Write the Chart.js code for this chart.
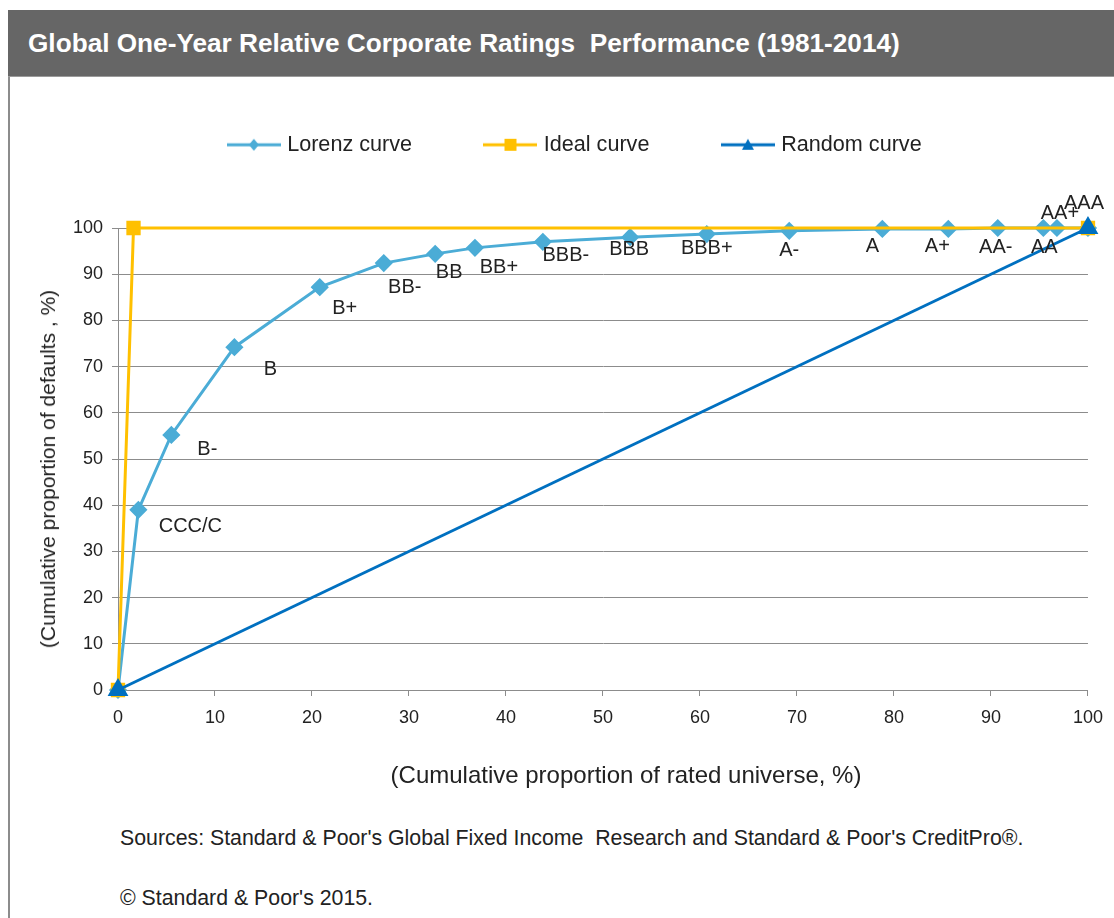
<!DOCTYPE html>
<html>
<head>
<meta charset="utf-8">
<script src="https://cdn.jsdelivr.net/npm/chart.js@4.4.1/dist/chart.umd.min.js"></script>
<style>
  body { margin: 0; background: #fff; font-family: "Liberation Sans", Arial, sans-serif; color: #222; }
  #titlebar {
    position: absolute; left: 8px; top: 10px; width: 1106px; height: 67px;
    background: #666666; color: #fff; font-weight: bold; font-size: 26.2px;
    line-height: 67px; padding-left: 20px; box-sizing: border-box; white-space: pre;
    border-bottom: 1px solid #9a9a9a;
  }
  #frame { position: absolute; left: 8px; top: 77px; width: 2px; height: 841px; background: #8c8c8c; }
  #wrap { position: absolute; left: 9px; top: 77px; width: 1105px; height: 723px; }
  .note { position: absolute; left: 120px; font-size: 21.3px; white-space: pre; }
  #xtitle { position: absolute; left: 626px; top: 775px; font-size: 24px; white-space: pre;
    transform: translate(-50%, -50%); }
  #ytitle { position: absolute; left: 48px; top: 469px; font-size: 21px; white-space: pre;
    transform: translate(-50%, -50%) rotate(-90deg); }
</style>
</head>
<body>
<div id="titlebar">Global One-Year Relative Corporate Ratings  Performance (1981-2014)</div>
<div id="frame"></div>
<div id="wrap"><canvas id="myChart"></canvas></div>
<div id="ytitle">(Cumulative proportion of defaults , %)</div>
<div id="xtitle">(Cumulative proportion of rated universe, %)</div>
<div class="note" style="top:826px">Sources: Standard &amp; Poor's Global Fixed Income  Research and Standard &amp; Poor's CreditPro®.</div>
<div class="note" style="top:886px">© Standard &amp; Poor's 2015.</div>
<script>
// rating categories, from worst to best (first point is the origin)
const ratings = ['', 'CCC/C', 'B-', 'B', 'B+', 'BB-', 'BB', 'BB+', 'BBB-', 'BBB', 'BBB+', 'A-', 'A', 'A+', 'AA-', 'AA', 'AA+', 'AAA'];
const lorenzX = [0, 2.1, 5.5, 12.0, 20.8, 27.4, 32.7, 36.8, 43.8, 52.8, 60.7, 69.2, 78.8, 85.6, 90.7, 95.4, 96.8, 100];
const lorenzY = [0, 39.0, 55.2, 74.2, 87.2, 92.4, 94.4, 95.7, 97.0, 98.0, 98.7, 99.4, 99.8, 99.8, 100, 100, 100, 100];
const idealX = [0, 1.6, 100];
const idealY = [0, 100, 100];
const randomX = [0, 100];
const randomY = [0, 100];
const xTicks = [0, 10, 20, 30, 40, 50, 60, 70, 80, 90, 100];
const yTicks = [0, 10, 20, 30, 40, 50, 60, 70, 80, 90, 100];

// where each rating label sits relative to its marker (px)
const labelOffsets = [null, [52, 17], [36, 15], [36, 22], [25, 21], [21, 24], [14, 19], [24, 20], [23, 14],
    [-1, 12], [0, 14], [0, 20], [-10, 18], [-11, 18], [-2, 19], [1, 19], [3, -15], [-4, -25]];

const LORENZ = '#4bacd6';
const IDEAL = '#ffc000';
const RANDOM = '#0070c0';
const GRID = '#8c8c8c';
const FONT = '"Liberation Sans", Arial, sans-serif';

function toPoints(xs, ys) {
    return xs.map((x, i) => ({x: x, y: ys[i]}));
}

// small line + marker picture for the legend
function legendIcon(color, marker) {
    const c = document.createElement('canvas');
    c.width = 54; c.height = 16;
    const g = c.getContext('2d');
    g.strokeStyle = color; g.lineWidth = 3;
    g.beginPath(); g.moveTo(0, 8); g.lineTo(54, 8); g.stroke();
    g.fillStyle = color;
    g.beginPath();
    if (marker === 'diamond') {
        g.moveTo(27, 2); g.lineTo(32, 8); g.lineTo(27, 14); g.lineTo(22, 8);
    } else if (marker === 'square') {
        g.rect(21, 2, 12, 12);
    } else {
        g.moveTo(27, 2); g.lineTo(33, 13); g.lineTo(21, 13);
    }
    g.closePath(); g.fill();
    return c;
}
const icons = [legendIcon(LORENZ, 'diamond'), legendIcon(IDEAL, 'square'), legendIcon(RANDOM, 'triangle')];

const ratingLabels = {
    id: 'ratingLabels',
    afterDatasetsDraw(chart) {
        const meta = chart.getDatasetMeta(0);
        const ctx = chart.ctx;
        ctx.save();
        ctx.font = '20px ' + FONT;
        ctx.fillStyle = '#222';
        ctx.textAlign = 'center';
        ctx.textBaseline = 'middle';
        meta.data.forEach((pt, i) => {
            if (!ratings[i]) return;
            const off = labelOffsets[i];
            ctx.fillText(ratings[i], pt.x + off[0], pt.y + off[1]);
        });
        ctx.restore();
    }
};

// fixed legend band height and row position
const legendPlace = {
    id: 'legendPlace',
    beforeUpdate(chart) {
        const lg = chart.legend;
        if (lg && !lg._patched) {
            const fit = lg.fit;
            lg.fit = function () { fit.call(this); this.height = 151; };
            lg._patched = true;
        }
    },
    afterLayout(chart) {
        const lg = chart.legend;
        lg.top = 57 - lg.options.labels.padding;
        lg.left += 28;
        lg.right += 28;
    }
};

const ctx = document.getElementById('myChart').getContext('2d');
new Chart(ctx, {
    type: 'scatter',
    data: {
        datasets: [{
            label: 'Lorenz curve',
            data: toPoints(lorenzX, lorenzY),
            showLine: true,
            clip: false,
            borderColor: LORENZ,
            backgroundColor: LORENZ,
            borderWidth: 3,
            pointStyle: 'rectRot',
            pointRadius: 7,
            pointHoverRadius: 7,
            order: 2
        }, {
            label: 'Ideal curve',
            data: toPoints(idealX, idealY),
            showLine: true,
            clip: false,
            borderColor: IDEAL,
            backgroundColor: IDEAL,
            borderWidth: 3,
            pointStyle: 'rect',
            pointRadius: 8,
            pointHoverRadius: 8,
            order: 1
        }, {
            label: 'Random curve',
            data: toPoints(randomX, randomY),
            showLine: true,
            clip: false,
            borderColor: RANDOM,
            backgroundColor: RANDOM,
            borderWidth: 3,
            pointStyle: 'triangle',
            pointRadius: 9,
            pointHoverRadius: 9,
            order: 0
        }]
    },
    options: {
        responsive: true,
        maintainAspectRatio: false,
        animation: false,
        layout: {padding: {top: 0, left: 0, right: 26, bottom: 0}},
        plugins: {
            tooltip: {enabled: false},
            legend: {
                position: 'top',
                labels: {
                    usePointStyle: true,
                    pointStyleWidth: 45,
                    padding: 76,
                    color: '#222',
                    font: {family: FONT, size: 21.6},
                    sort: (a, b) => a.datasetIndex - b.datasetIndex,
                    generateLabels(chart) {
                        const items = Chart.defaults.plugins.legend.labels.generateLabels(chart);
                        items.forEach(it => { it.pointStyle = icons[it.datasetIndex]; });
                        return items;
                    }
                }
            }
        },
        scales: {
            x: {
                type: 'linear',
                position: 'bottom',
                min: 0,
                max: 100,
                afterBuildTicks: s => { s.ticks = xTicks.map(v => ({value: v})); },
                afterFit: s => { s.height = 110; },
                grid: {drawOnChartArea: false, drawTicks: true, tickLength: 6, color: GRID},
                border: {color: GRID, width: 1},
                ticks: {color: '#222', font: {family: FONT, size: 18}, padding: 11, maxRotation: 0}
            },
            y: {
                type: 'linear',
                min: 0,
                max: 100,
                afterBuildTicks: s => { s.ticks = yTicks.map(v => ({value: v})); },
                afterFit: s => { s.width = 109; },
                grid: {color: GRID, tickLength: 6},
                border: {color: GRID, width: 1},
                ticks: {color: '#222', font: {family: FONT, size: 18}, padding: 9}
            }
        }
    },
    plugins: [ratingLabels, legendPlace]
});
</script>
</body>
</html>
